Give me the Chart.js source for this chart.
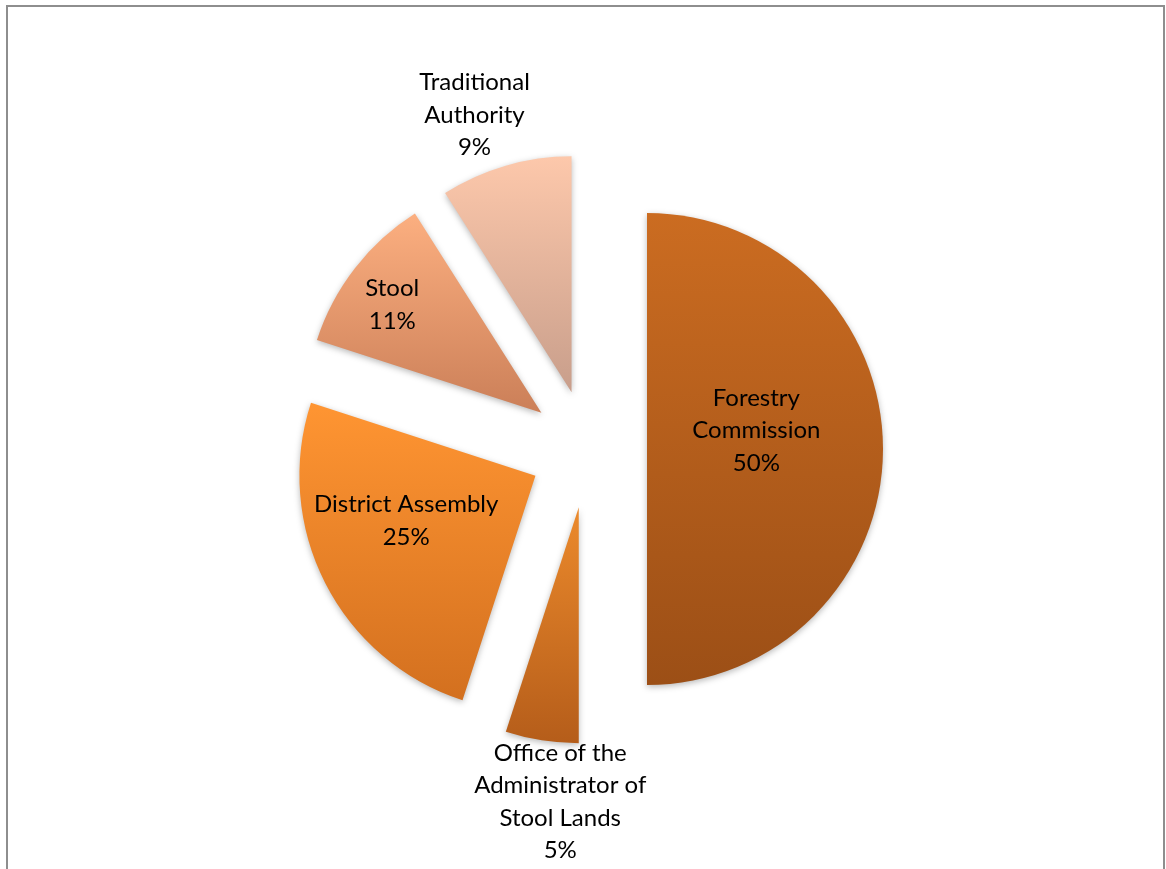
<!DOCTYPE html>
<html>
<head>
<meta charset="utf-8">
<script src="https://cdn.jsdelivr.net/npm/chart.js@4.4.1/dist/chart.umd.min.js"></script>
<style>
  html, body { margin: 0; padding: 0; background: #fff; }
  body { width: 1166px; height: 869px; overflow: hidden; position: relative; }
  #frame { position: absolute; left: 6px; top: 5px; width: 1159px; height: 900px;
           border: 2px solid #8e8e8e; box-sizing: border-box; }
  #wrap { position: absolute; left: 0; top: 0; width: 1166px; height: 869px; }
</style>
</head>
<body>
<div id="frame"></div>
<div id="wrap"><canvas id="pie" width="1166" height="869"></canvas></div>
<script>
// categories, already split the way the labels wrap
const categories = [
    ['Forestry', 'Commission'],
    ['Office of the', 'Administrator of', 'Stool Lands'],
    ['District Assembly'],
    ['Stool'],
    ['Traditional', 'Authority']
];
const shares = [50, 5, 25, 11, 9];

// gradient colours, top and bottom of each slice
const topColors = ['#CB6C21', '#EC8A2C', '#FF9532', '#FCAF80', '#FDC8AB'];
const bottomColors = ['#9C4F16', '#B55D1A', '#D3701F', '#CB7F58', '#C89E8B'];

const explode = 59;                               // px each slice is pulled out
const labelRadius = [0.47, 1.25, 0.58, 0.78, 1.244]; // label distance, fraction of radius
const labelTurn = [-9.5, -5.4, 7.8, -1.9, -3.1];     // degrees off the slice middle

function arcYRange(arc) {
    var lo = arc.y, hi = arc.y;
    for (var k = 0; k <= 64; k++) {
        var a = arc.startAngle + (arc.endAngle - arc.startAngle) * k / 64;
        var y = arc.y + Math.sin(a) * arc.outerRadius;
        if (y < lo) lo = y;
        if (y > hi) hi = y;
    }
    return [lo, hi];
}

// draw slices pulled out from the middle, with a gradient and a soft shadow
const explodePlugin = {
    id: 'explode',
    beforeDatasetDraw(chart, args) {
        var ctx = chart.ctx;
        args.meta.data.forEach(function (arc, i) {
            var mid = (arc.startAngle + arc.endAngle) / 2;
            var range = arcYRange(arc);
            var grad = ctx.createLinearGradient(0, range[0], 0, range[1]);
            grad.addColorStop(0, topColors[i]);
            grad.addColorStop(1, bottomColors[i]);
            arc.options.backgroundColor = grad;
            ctx.save();
            ctx.translate(Math.cos(mid) * explode, Math.sin(mid) * explode);
            ctx.shadowColor = 'rgba(0,0,0,0.28)';
            ctx.shadowBlur = 6;
            ctx.shadowOffsetY = 2;
            arc.draw(ctx);
            ctx.restore();
        });
        return false;
    }
};

const labelPlugin = {
    id: 'sliceLabels',
    afterDatasetsDraw(chart) {
        var ctx = chart.ctx;
        var meta = chart.getDatasetMeta(0);
        var total = shares.reduce(function (a, b) { return a + b; }, 0);
        ctx.save();
        ctx.font = '24px Lato';
        ctx.fillStyle = '#000';
        ctx.textAlign = 'center';
        ctx.textBaseline = 'middle';
        meta.data.forEach(function (arc, i) {
            var mid = (arc.startAngle + arc.endAngle) / 2;
            var cx = arc.x + Math.cos(mid) * explode;
            var cy = arc.y + Math.sin(mid) * explode;
            var a = mid + labelTurn[i] * Math.PI / 180;
            var r = arc.outerRadius * labelRadius[i];
            var x = cx + Math.cos(a) * r;
            var y = cy + Math.sin(a) * r;
            var lines = categories[i].concat([Math.round(shares[i] / total * 100) + '%']);
            var lh = 32.5;
            var y0 = y - (lines.length - 1) * lh / 2;
            lines.forEach(function (t, k) {
                ctx.fillText(t, x, y0 + k * lh);
            });
        });
        ctx.restore();
    }
};

const ctx = document.getElementById('pie').getContext('2d');
const pieChart = new Chart(ctx, {
    type: 'pie',
    data: {
        labels: categories.map(function (c) { return c.join(' '); }),
        datasets: [{
            data: shares,
            backgroundColor: topColors,
            borderWidth: 0
        }]
    },
    options: {
        responsive: false,
        devicePixelRatio: 1,
        animation: false,
        radius: 236,
        layout: { padding: { left: 10, right: 0, top: 29, bottom: 0 } },
        plugins: {
            legend: { display: false },
            tooltip: { enabled: false }
        }
    },
    plugins: [explodePlugin, labelPlugin]
});
</script>
</body>
</html>
